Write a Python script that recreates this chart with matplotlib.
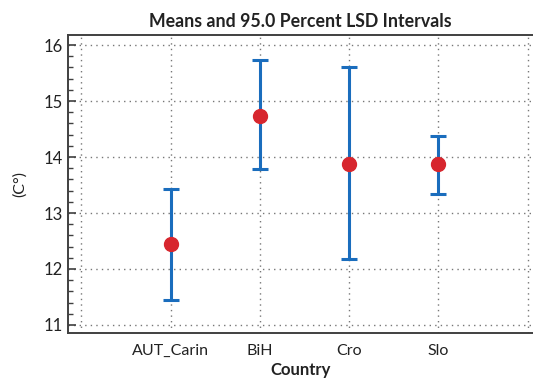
import numpy as np
import matplotlib
matplotlib.use('Agg')
import matplotlib.pyplot as plt
from matplotlib.ticker import MultipleLocator

plt.rcParams['font.family'] = ['Lato', 'DejaVu Sans']

paises = ['AUT_Carin', 'BiH', 'Cro', 'Slo']
medias = [12.44, 14.74, 13.87, 13.87]
inferior = [11.45, 13.79, 12.17, 13.34]
superior = [13.43, 15.74, 15.60, 14.37]

x = np.arange(1, len(paises) + 1)
medias = np.array(medias)
err = [medias - np.array(inferior), np.array(superior) - medias]

fig = plt.figure(figsize=(5.33, 3.79), dpi=100)
ax = fig.add_axes([0.1276, 0.1214, 0.8724, 0.7863])

ax.errorbar(x, medias, yerr=err, fmt='none', ecolor='#1a6dbd', elinewidth=2.2,
            capsize=5.5, capthick=2.2, zorder=3)
ax.plot(x, medias, 'o', color='#d7262e', markersize=10, zorder=4)

ax.set_xlim(-0.15, 5.06)
ax.set_ylim(10.857, 16.18)
ax.set_xticks(x)
ax.set_xticklabels(paises)
ax.set_xticks([0, 5], minor=True)
ax.yaxis.set_major_locator(MultipleLocator(1))
ax.yaxis.set_minor_locator(MultipleLocator(0.2))

ax.grid(True, which='both', axis='x', linestyle=(0, (1, 3)), color='#777777', linewidth=1.0)
ax.grid(True, which='major', axis='y', linestyle=(0, (1, 3)), color='#777777', linewidth=1.0)

for s in ['left', 'bottom', 'top']:
    ax.spines[s].set_color('#404040')
    ax.spines[s].set_linewidth(1.4)
ax.spines['right'].set_visible(False)

ax.tick_params(axis='y', which='major', direction='in', length=6, width=1.2,
               color='#404040', labelsize=12, labelcolor='#222222')
ax.tick_params(axis='y', which='minor', direction='in', length=3.5, width=1.0, color='#404040')
ax.tick_params(axis='x', which='both', length=0, labelsize=11.5, labelcolor='#222222', pad=8)

ax.set_title('Means and 95.0 Percent LSD Intervals', fontsize=12.8, fontweight='bold',
             color='#222222', pad=6)
ax.set_xlabel('Country', fontsize=12, fontweight='bold', color='#222222', labelpad=3)
ax.set_ylabel('(C°)', fontsize=11.5, color='#222222', labelpad=12)

fig.savefig('out.png', dpi=100)
